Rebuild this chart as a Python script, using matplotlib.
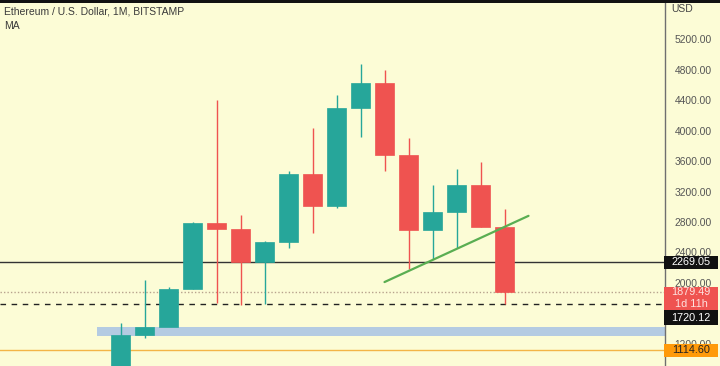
import matplotlib
matplotlib.use("Agg")
import matplotlib.pyplot as plt
import matplotlib.transforms as mtransforms
from matplotlib.patches import Rectangle
import numpy as np

# ---- data (ETH/USD monthly, Jan 2021 .. May 2022) ----
months = ["2021-01", "2021-02", "2021-03", "2021-04", "2021-05", "2021-06",
          "2021-07", "2021-08", "2021-09", "2021-10", "2021-11", "2021-12",
          "2022-01", "2022-02", "2022-03", "2022-04", "2022-05"]
opens  = [737, 1314, 1418, 1919, 2780, 2707, 2275, 2532, 3433, 3005, 4295, 4630, 3680, 2690, 2928, 3285, 2731]
highs  = [1476, 2040, 1943, 2795, 4400, 2892, 2550, 3474, 4030, 4466, 4875, 4795, 3900, 3285, 3490, 3590, 2965]
lows   = [715, 1280, 1545, 1920, 1735, 1702, 1720, 2460, 2660, 2980, 3920, 3475, 2180, 2310, 2455, 2731, 1722]
closes = [1314, 1418, 1919, 2780, 2707, 2275, 2532, 3433, 3005, 4295, 4630, 3680, 2690, 2928, 3285, 2731, 1879.49]

trend_x = [11.0, 17.0]          # candle index
trend_y = [2010, 2880]          # price

zone_low, zone_high, zone_start = 1300, 1415, -1.0
level_black = 2269.05
level_last = 1879.49
level_dashed = 1720.12
level_orange = 1114.60

# 1600.00 is fully hidden behind the price tags in the reference
yticks = [5200, 4800, 4400, 4000, 3600, 3200, 2800, 2400, 2000, 1200]

# ---- style ----
BG = "#fcfcd6"
GREEN = "#26a69a"
RED = "#ef5350"
FONT = "Liberation Sans"
W, H = 720, 366
fig = plt.figure(figsize=(W / 100, H / 100), dpi=100, facecolor=BG)
ax_right_px = 665
ax = fig.add_axes([0, 0, ax_right_px / W, 1], facecolor=BG)

px_per_usd = 0.0761
y_top = 5200 + 39.3 / px_per_usd
y_bot = 5200 - (H - 39.3) / px_per_usd
ax.set_ylim(y_bot, y_top)
x0_px, step_px = 120.5, 24.0
ax.set_xlim((0 - x0_px) / step_px, (ax_right_px - x0_px) / step_px)

idx = np.arange(len(months))
body_w = 19 / step_px
for i, o, h, l, c in zip(idx, opens, highs, lows, closes):
    col = GREEN if c >= o else RED
    ax.vlines(i, l, h, color=col, lw=1.0, zorder=3)
    ax.add_patch(Rectangle((i - body_w / 2, min(o, c)), body_w, abs(c - o),
                           facecolor=col, edgecolor=col, lw=0.5, zorder=4))

# zone / levels
ax.add_patch(Rectangle((zone_start, zone_low), 40, zone_high - zone_low,
                       facecolor="#b4cbe2", edgecolor="none", zorder=2))
ax.axhline(level_black, color="#333333", lw=1.0, zorder=2)
ax.axhline(level_last, color="#b8a38e", lw=1.0, ls=(0, (1, 1.5)), zorder=2)
ax.axhline(level_dashed, color="#222222", lw=1.0, ls=(0, (4, 4)), zorder=2)
ax.axhline(level_orange, color="#f3b547", lw=1.0, zorder=2)
ax.plot(trend_x, trend_y, color="#5aae52", lw=1.6, zorder=5, solid_capstyle="round")

# axes styling
for s in ["top", "left", "bottom"]:
    ax.spines[s].set_visible(False)
ax.spines["right"].set_color("#6f6f6f")
ax.spines["right"].set_linewidth(1.0)
ax.set_xticks([])
ax.yaxis.tick_right()
ax.set_yticks(yticks)
ax.set_yticklabels([f"{v:.2f}" for v in yticks])
ax.tick_params(axis="y", length=0, pad=7.0, labelsize=7.4, labelcolor="#555555")
for lab in ax.get_yticklabels():
    lab.set_fontfamily(FONT)

# price tags
tr = mtransforms.blended_transform_factory(fig.transFigure, ax.transData)
tag_x0 = 664 / W
tag_w = 54 / W
def tag(center_price, height_px, fc, lines, tc):
    h = height_px / px_per_usd
    r = Rectangle((tag_x0, center_price - h / 2), tag_w, h, transform=tr,
                  facecolor=fc, edgecolor="none", clip_on=False, zorder=10)
    fig.add_artist(r)
    n = len(lines)
    for k, t in enumerate(lines):
        yy = center_price + h / 2 - (k + 0.5) * h / n
        fig.text(tag_x0 + tag_w / 2, yy, t, transform=tr, ha="center", va="center",
                 fontsize=7.8, color=tc, family=FONT, zorder=11)

tag(level_black, 12.5, "#111111", ["2269.05"], "white")
tag(5200 - (298.3 - 39.3) / px_per_usd, 23.5, RED, ["1879.49", "1d 11h"], "#fde2df")
tag(5200 - (317.5 - 39.3) / px_per_usd, 15, "#111111", ["1720.12"], "white")
tag(level_orange, 13, "#ff9a0a", ["1114.60"], "#222222")

# texts
fig.text(4 / W, 1 - 11 / H, "Ethereum / U.S. Dollar, 1M, BITSTAMP", ha="left", va="center",
         fontsize=7.5, color="#3a3a3a", family=FONT)
fig.text(4 / W, 1 - 26 / H, "MA", ha="left", va="center",
         fontsize=7.5, color="#3a3a3a", family=FONT)
fig.text(671 / W, 1 - 9 / H, "USD", ha="left", va="center",
         fontsize=7.5, color="#444444", family=FONT)

# top dark strip
fig.add_artist(Rectangle((0, 1 - 2.5 / H), 1, 2.5 / H, transform=fig.transFigure,
                         facecolor="#111111", edgecolor="none", zorder=20))

fig.savefig("out.png", dpi=100, facecolor=BG)
